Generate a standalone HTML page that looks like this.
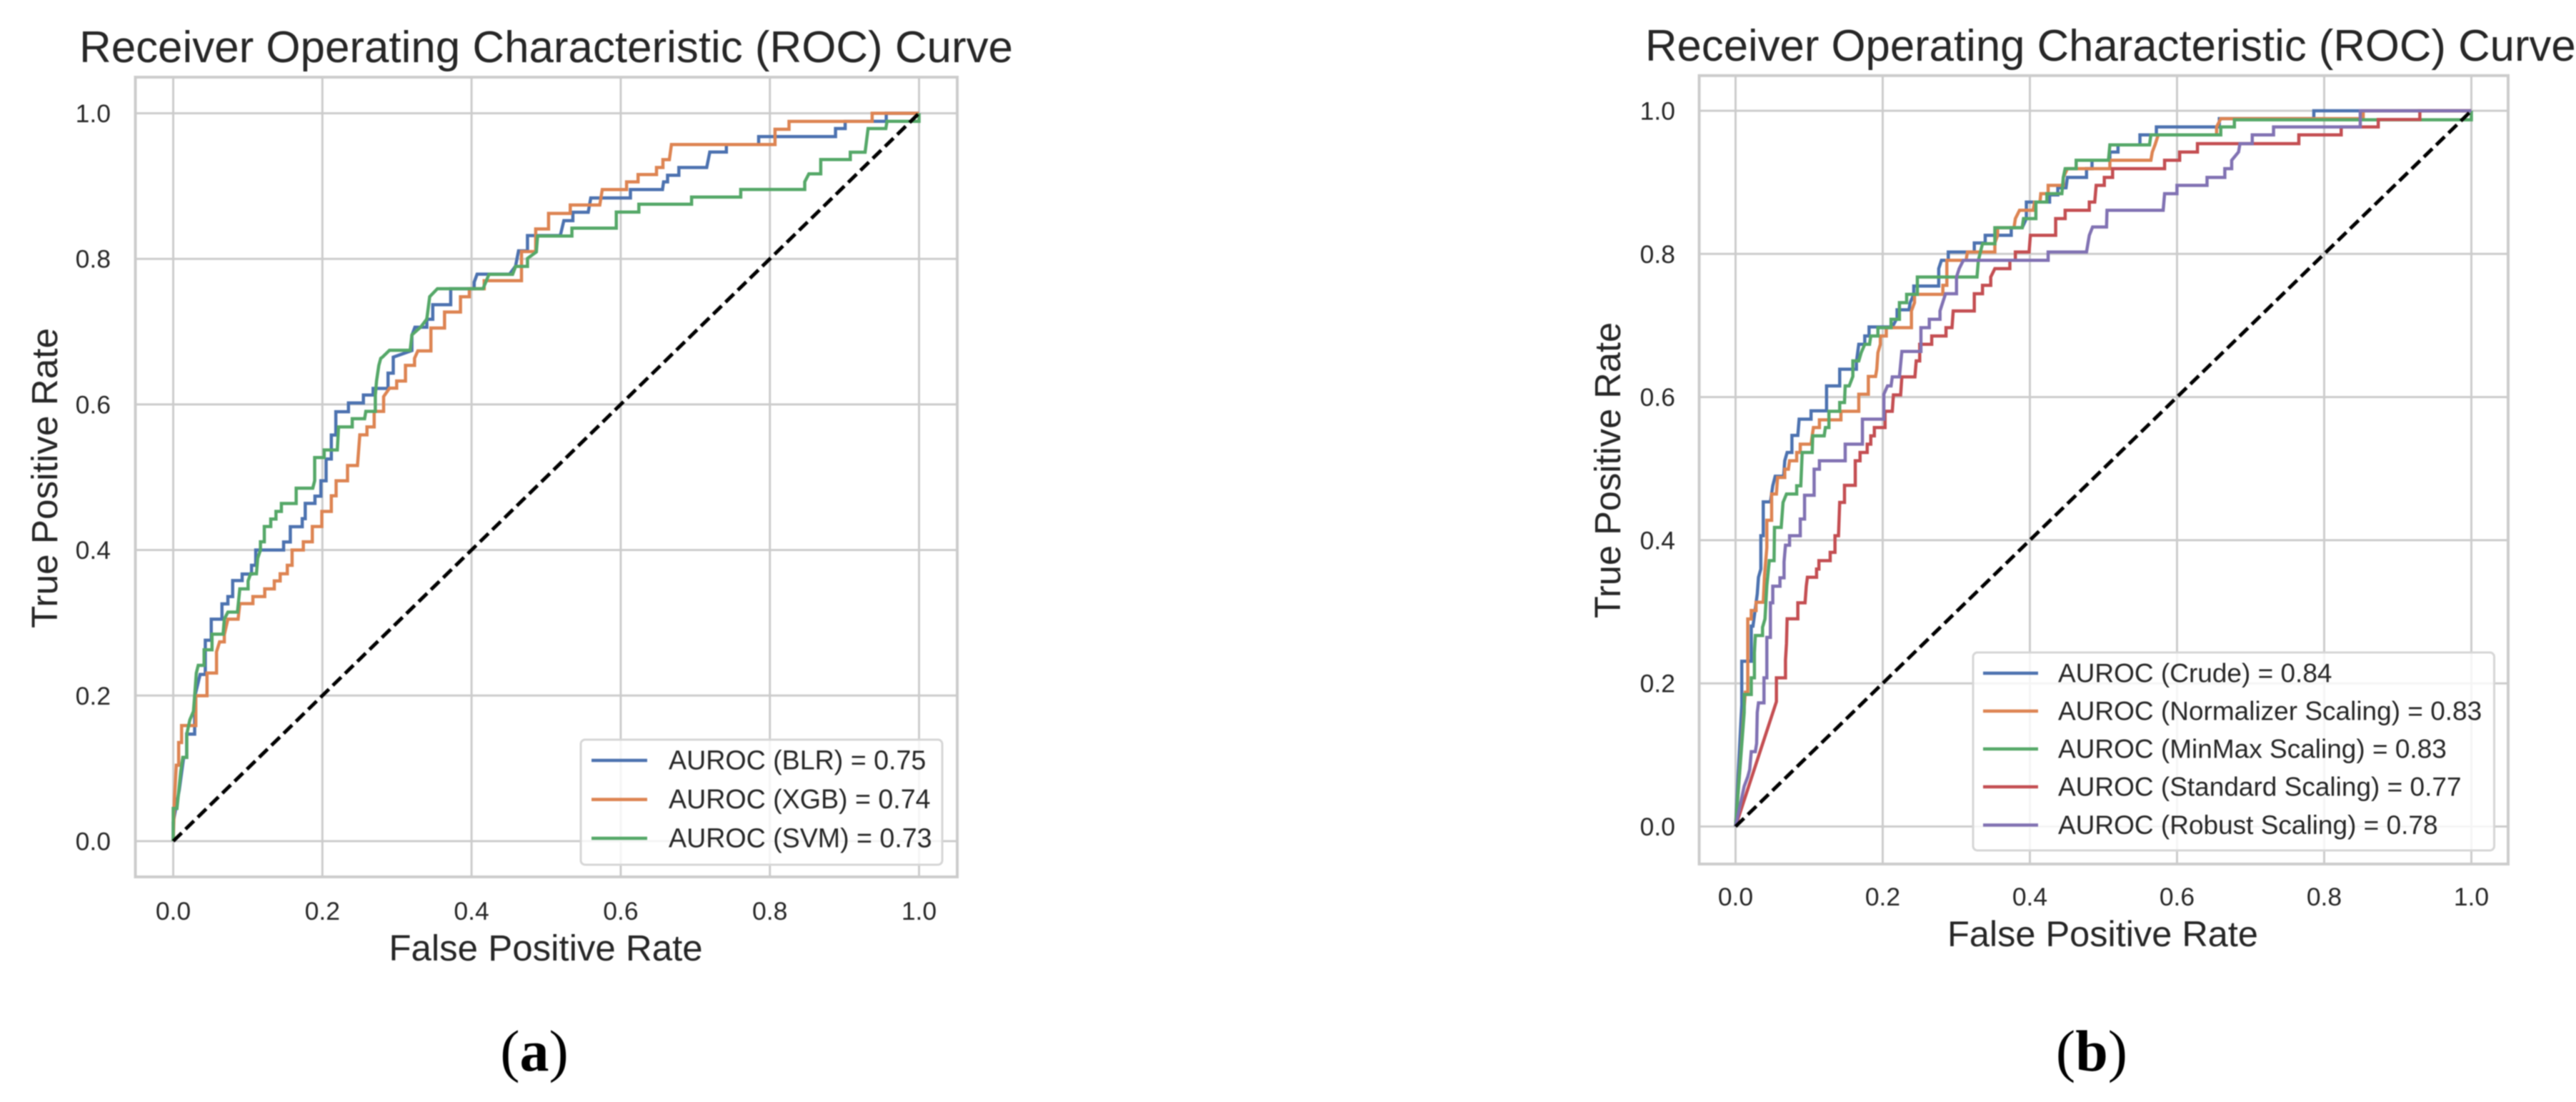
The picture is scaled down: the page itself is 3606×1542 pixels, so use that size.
<!DOCTYPE html>
<html lang="en">
<head>
<meta charset="utf-8">
<title>ROC Curves</title>
<style>
html,body{margin:0;padding:0;background:#fff;}
body{width:3606px;height:1542px;overflow:hidden;}
svg{display:block;filter:blur(0.8px);}
text{font-family:"Liberation Sans",Arial,sans-serif;fill:#262626;}
.cap{font-family:"Liberation Serif",serif;fill:#000;}
</style>
</head>
<body>
<svg id="figure" xmlns="http://www.w3.org/2000/svg" width="3606" height="1542" viewBox="0 0 3606 1542">
  <rect x="0" y="0" width="3606" height="1542" fill="#ffffff"/>
  <g id="panel-a"></g>
  <g id="panel-b"></g>
  <text x="111" y="87" font-size="61.9">Receiver Operating Characteristic (ROC) Curve</text>
  <text x="2303" y="85" font-size="61.7">Receiver Operating Characteristic (ROC) Curve</text>
  <text x="764" y="1344" font-size="51" text-anchor="middle">False Positive Rate</text>
  <text x="2943.5" y="1324" font-size="50.5" text-anchor="middle">False Positive Rate</text>
  <text transform="translate(80,669) rotate(-90)" font-size="51.3" text-anchor="middle">True Positive Rate</text>
  <text transform="translate(2268,658) rotate(-90)" font-size="50.6" text-anchor="middle">True Positive Rate</text>
  <text class="cap" x="748" y="1498" font-size="82" text-anchor="middle">(<tspan font-weight="bold">a</tspan>)</text>
  <text class="cap" x="2928" y="1498" font-size="82" text-anchor="middle">(<tspan font-weight="bold">b</tspan>)</text>
</svg>
<script>
var tickValues = [0.0, 0.2, 0.4, 0.6, 0.8, 1.0];
var tickLabels = ["0.0", "0.2", "0.4", "0.6", "0.8", "1.0"];
var chanceFpr = [0, 1];
var chanceTpr = [0, 1];

var labelsA = ["AUROC (BLR) = 0.75", "AUROC (XGB) = 0.74", "AUROC (SVM) = 0.73"];
var labelsB = ["AUROC (Crude) = 0.84", "AUROC (Normalizer Scaling) = 0.83", "AUROC (MinMax Scaling) = 0.83", "AUROC (Standard Scaling) = 0.77", "AUROC (Robust Scaling) = 0.78"];

var blrFpr = [0,0,.008,.014,.018,.018,.0287,.0287,.036,.043,.043,.051,.051,.0653,.0653,.0733,.0733,.0797,.0797,.0924,.0924,.105,.105,.1106,.1106,.148,.148,.157,.157,.173,.173,.177,.177,.19,.19,.198,.198,.205,.205,.212,.212,.218,.218,.235,.235,.255,.255,.268,.268,.288,.288,.295,.295,.32,.32,.324,.34,.34,.348,.348,.372,.372,.4035,.4035,.4075,.451,.459,.463,.475,.475,.519,.5238,.5358,.5358,.5564,.5599,.613,.613,.656,.6575,.6628,.6628,.678,.678,.7153,.7194,.7417,.7417,.785,.785,.888,.888,.901,.901,.956,.956,1];
var blrTpr = [0,.026,.07,.115,.115,.147,.147,.198,.229,.229,.276,.276,.305,.305,.326,.326,.336,.336,.358,.358,.367,.367,.379,.379,.4,.4,.411,.411,.432,.432,.443,.443,.464,.464,.474,.474,.495,.495,.525,.525,.558,.558,.59,.59,.602,.602,.613,.613,.622,.622,.643,.643,.665,.674,.695,.706,.706,.717,.717,.737,.737,.759,.759,.768,.779,.779,.79,.811,.811,.832,.832,.8525,.8525,.864,.864,.8837,.8837,.8952,.8952,.9057,.9057,.9149,.9149,.9255,.9255,.9468,.9468,.957,.957,.968,.968,.979,.979,.989,.989,1,1];

var xgbFpr = [0,.0016,.0041,.0073,.0073,.0112,.0112,.0303,.0303,.0453,.0453,.058,.058,.0622,.0685,.0685,.0733,.087,.0893,.1068,.1068,.1227,.1227,.1355,.1355,.1434,.1434,.153,.153,.1594,.1594,.1744,.1744,.1865,.1865,.1992,.1992,.212,.212,.2184,.2184,.2337,.2337,.247,.2502,.2598,.2598,.2694,.2694,.2821,.2821,.29,.2996,.2996,.3114,.3114,.3236,.3236,.328,.3455,.3455,.3638,.3638,.3852,.3852,.397,.397,.417,.417,.467,.467,.486,.486,.5033,.5033,.5324,.5324,.5719,.5753,.6079,.6079,.6233,.6233,.648,.648,.6566,.6566,.6652,.668,.8069,.8069,.8257,.8257,.9372,.9372,1];
var xgbTpr = [0,.0576,.1043,.1043,.1355,.1355,.1589,.1589,.1998,.1998,.2309,.2309,.2601,.2738,.2738,.2835,.305,.305,.3264,.3264,.3361,.3361,.3466,.3466,.3575,.3575,.3673,.3673,.379,.379,.4,.4,.4113,.4113,.4323,.4323,.453,.453,.4744,.4744,.4951,.4951,.5161,.5161,.5582,.5582,.5691,.5691,.5905,.5905,.6108,.6224,.6224,.6322,.6322,.6536,.6536,.6633,.6735,.6735,.705,.705,.727,.727,.748,.748,.759,.759,.77,.77,.81,.81,.841,.841,.8624,.8624,.8739,.8739,.8952,.8952,.9057,.9057,.9159,.9159,.9255,.9255,.9363,.9363,.957,.957,.978,.978,.9888,.9888,1,1];

var svmFpr = [0,0,.005,.0102,.0128,.0182,.0182,.0223,.0271,.0287,.0309,.0335,.0414,.0414,.052,.052,.0669,.0685,.0733,.0861,.0893,.1004,.1004,.1036,.1116,.1132,.117,.117,.1221,.1221,.1307,.1307,.1377,.1377,.145,.145,.1648,.1648,.1871,.1897,.1897,.2024,.2024,.22,.2216,.24,.24,.2566,.2582,.271,.271,.2726,.2757,.2783,.2804,.2899,.3177,.32,.332,.34,.3439,.3542,.4154,.4234,.4551,.4591,.475,.475,.4869,.4885,.5346,.5346,.5941,.5941,.6243,.6243,.695,.695,.7609,.7609,.8467,.8467,.8523,.8682,.8682,.9079,.9079,.9277,.9317,.9555,.9571,1,1];
var svmTpr = [0,.045,.045,.0965,.1152,.1152,.1472,.1667,.1783,.1998,.2309,.2415,.2415,.2629,.2629,.2843,.2843,.305,.3147,.3147,.3466,.3466,.3575,.3673,.3673,.3887,.4,.4113,.4113,.4323,.4323,.4425,.4425,.453,.453,.4639,.4639,.4849,.4849,.4951,.527,.527,.5375,.5375,.5691,.5691,.5804,.5804,.5905,.5905,.6127,.6322,.6536,.6633,.6648,.6744,.6744,.6955,.7064,.7174,.748,.759,.759,.7787,.7787,.7897,.7897,.8006,.8094,.8313,.8313,.8422,.8422,.8642,.8642,.8751,.8751,.8848,.8848,.8953,.8953,.9058,.9167,.9167,.9365,.9365,.9465,.9465,.979,.979,.989,.989,1];

var crudeFpr = [0,.0084,.0084,.0214,.0214,.0237,.0263,.0295,.0312,.0344,.0344,.0377,.0377,.0474,.0506,.0539,.0653,.0669,.0701,.0766,.0766,.0847,.0864,.1026,.1026,.1237,.1237,.1416,.1416,.1643,.1643,.1675,.1756,.1756,.1815,.1815,.213,.2195,.2195,.2357,.2373,.2422,.2422,.2761,.2761,.2798,.2891,.2891,.3245,.3245,.3393,.3393,.3747,.3747,.3896,.3952,.3952,.4268,.4268,.438,.438,.4491,.451,.477,.477,.4845,.4845,.5087,.5087,.5198,.5198,.5496,.5496,.5719,.5719,.6575,.6575,.7859,.7859,1];
var crudeTpr = [0,.17,.231,.231,.28,.28,.3,.3249,.3482,.3598,.4063,.4063,.4535,.4535,.4761,.4894,.4894,.511,.5226,.5226,.5465,.5465,.5691,.5691,.5807,.5807,.6156,.6156,.6389,.6389,.6488,.6738,.6738,.6854,.6854,.698,.698,.7103,.7219,.7219,.7319,.7435,.7552,.7552,.7794,.791,.791,.8027,.8027,.8153,.8153,.826,.826,.8366,.8366,.8493,.8725,.8725,.8825,.8825,.8925,.8925,.9068,.9068,.9191,.9191,.9308,.9308,.9424,.9424,.9524,.9524,.9664,.9664,.9774,.9774,.989,.989,1,1];

var normFpr = [0,.0133,.0166,.0166,.0214,.0214,.0279,.0279,.0377,.0393,.0425,.0425,.049,.049,.0555,.0571,.0669,.0669,.0718,.0734,.0831,.0831,.088,.088,.1026,.1042,.1058,.114,.114,.1432,.1432,.1675,.1675,.1805,.1805,.1903,.1919,.1935,.1968,.1968,.2049,.2049,.239,.239,.2432,.2432,.2817,.2817,.2872,.2872,.3133,.3151,.3524,.3524,.3561,.3561,.3784,.3803,.3859,.4045,.4063,.4138,.4149,.4249,.4249,.4454,.4454,.451,.5087,.5087,.5645,.5664,.5701,.5745,.6538,.6538,.6594,.853,.853,1];
var normTpr = [0,.1877,.1877,.29,.29,.3017,.3017,.3133,.3133,.3498,.3897,.4279,.4279,.4645,.4645,.4877,.4877,.4993,.4993,.511,.511,.5226,.5226,.5342,.5342,.5458,.5575,.5575,.5681,.5681,.5801,.5801,.604,.604,.6289,.6289,.6389,.6621,.6738,.6854,.6854,.697,.697,.7203,.7319,.7435,.7435,.7561,.7561,.791,.791,.8027,.8027,.8153,.826,.8366,.8366,.8493,.8609,.8609,.8725,.8725,.8842,.8842,.8958,.8958,.9068,.9191,.9191,.9308,.9308,.9424,.9524,.9664,.9664,.9774,.989,.989,1,1];

var minmaxFpr = [0,.0117,.0117,.0214,.0214,.0256,.0256,.0269,.0367,.0367,.04,.0425,.0458,.0523,.0529,.062,.0646,.0692,.0831,.0831,.0886,.0906,.1042,.1049,.1205,.1221,.1269,.1269,.1416,.1416,.1481,.149,.1545,.1594,.1594,.1675,.1708,.1756,.1821,.1838,.1935,.1935,.2114,.2114,.2227,.2227,.2325,.2325,.2471,.2471,.3282,.33,.3356,.3524,.3524,.3896,.3914,.4082,.4082,.4231,.4231,.4435,.4454,.448,.4629,.4629,.5068,.5087,.5626,.5645,.6594,.6594,.678,.678,1,1];
var minmaxTpr = [0,.1594,.1844,.1844,.2077,.2077,.2426,.2668,.2668,.2784,.29,.3365,.3714,.3714,.4179,.4179,.4528,.4645,.4645,.4761,.4761,.5226,.5226,.5458,.5458,.5575,.5575,.5801,.5801,.5924,.5924,.6156,.6156,.6289,.6505,.6505,.6621,.6738,.6738,.6854,.6854,.697,.697,.7086,.7086,.7319,.7319,.7435,.7435,.7677,.7677,.791,.8143,.8143,.8366,.8366,.8493,.8493,.8725,.8725,.8842,.8842,.9068,.9191,.9191,.9308,.9308,.9524,.9524,.9664,.9664,.9774,.9774,.9874,.9874,1];

var standardFpr = [0,.0555,.0555,.0679,.0679,.0692,.0701,.0847,.0847,.0945,.0961,.0977,.1101,.1101,.1133,.1133,.1286,.1286,.1351,.1351,.1399,.1416,.1481,.1481,.1627,.1627,.1692,.1692,.1789,.1789,.1838,.1838,.1886,.1886,.2032,.2032,.213,.2146,.2244,.226,.2438,.2455,.2503,.2503,.2666,.2666,.286,.286,.2942,.2958,.3245,.3245,.3356,.3356,.3468,.3468,.3524,.3728,.3728,.3803,.3803,.3989,.4007,.435,.435,.448,.448,.4808,.4808,.4882,.4901,.5012,.5012,.5124,.5124,.5831,.5831,.6036,.6036,.6278,.6278,.7655,.7655,.8231,.8231,.8735,.8735,.93,.93,1];
var standardTpr = [0,.1744,.2077,.2077,.2326,.2559,.2902,.2902,.3125,.3125,.3358,.3482,.3482,.3598,.3598,.3714,.3714,.383,.383,.4063,.4063,.4528,.4528,.4767,.4767,.511,.511,.5226,.5226,.5342,.5342,.5458,.5458,.5575,.5575,.5801,.5801,.603,.603,.6282,.6282,.6505,.6505,.6738,.6738,.6854,.6854,.697,.697,.7203,.7203,.7444,.7444,.7561,.7561,.7677,.7794,.7794,.791,.791,.8027,.8027,.826,.826,.8493,.8493,.8609,.8609,.8725,.8725,.8958,.8958,.9068,.9068,.9191,.9191,.9308,.9308,.9424,.9424,.9541,.9541,.9664,.9664,.9774,.9774,.9877,.9877,1,1];

var robustFpr = [0,.0117,.0166,.0192,.0214,.0269,.0286,.0295,.0312,.0386,.0386,.0425,.0425,.0474,.0474,.0506,.0506,.0604,.0604,.0659,.0659,.0679,.0734,.0734,.088,.088,.0938,.0938,.1068,.1068,.114,.114,.149,.149,.1724,.1724,.2016,.2016,.2065,.2114,.213,.2227,.226,.2519,.2519,.2633,.2633,.2779,.2779,.2817,.2854,.3003,.3003,.304,.3096,.4249,.4249,.477,.4808,.4852,.5042,.5049,.5812,.5831,.5999,.5999,.6408,.6408,.665,.665,.6743,.6743,.6836,.6855,.7022,.7022,.7312,.7312,.849,.849,1];
var robustTpr = [0,.0562,.0695,.0795,.1045,.1045,.1161,.1594,.1727,.1727,.2077,.2077,.2642,.2642,.3125,.3125,.3358,.3358,.3475,.3475,.3698,.393,.393,.4063,.4063,.4296,.4296,.4628,.4628,.4993,.4993,.511,.511,.5342,.5342,.5691,.5691,.604,.6156,.6156,.6282,.6282,.6638,.6638,.697,.697,.7086,.7086,.7203,.7328,.7444,.7444,.7677,.7794,.791,.791,.8027,.8027,.826,.8376,.8376,.8609,.8609,.8842,.8842,.8958,.8958,.9068,.9068,.9191,.9191,.9308,.9424,.9541,.9541,.9664,.9664,.9774,.9774,1,1];

var SVGNS = "http://www.w3.org/2000/svg";
var COLORS = ["#4c72b0", "#dd8452", "#55a868", "#c44e52", "#8172b3"];

function make(parent, tag, attrs, txt) {
  var el = document.createElementNS(SVGNS, tag);
  for (var k in attrs) { el.setAttribute(k, attrs[k]); }
  if (txt !== undefined) { el.textContent = txt; }
  parent.appendChild(el);
  return el;
}

function pointsFrom(xs, ys, xAxis, yAxis) {
  var out = [];
  for (var i = 0; i < xs.length; i++) {
    out.push(xAxis(xs[i]).toFixed(1) + "," + yAxis(ys[i]).toFixed(1));
  }
  return out.join(" ");
}

function drawPanel(p) {
  var root = document.getElementById(p.id);
  var xAxis = function (v) { return p.x0 + p.xs * v; };
  var yAxis = function (v) { return p.y0 - p.ys * v; };

  tickValues.forEach(function (v, i) {
    var gx = make(root, "line", {x1: xAxis(v), x2: xAxis(v), y1: p.top, y2: p.bottom, stroke: "#cccccc", "stroke-width": 3});
    
    
    var gy = make(root, "line", {x1: p.left, x2: p.right, y1: yAxis(v), y2: yAxis(v), stroke: "#cccccc", "stroke-width": 3});
    
    
    var tx = make(root, "text", {x: xAxis(v), y: p.xTickY, "font-size": 35.5, "text-anchor": "middle"}, tickLabels[i]);
    
    
    var ty = make(root, "text", {x: p.yTickX, y: yAxis(v) + 12.5, "font-size": 35.5, "text-anchor": "end"}, tickLabels[i]);
    
    
  });

  var frame = make(root, "rect", {x: p.left, y: p.top, width: p.right - p.left, height: p.bottom - p.top, fill: "none", stroke: "#cccccc", "stroke-width": 4});
  
  

  p.series.forEach(function (s, i) {
    var line = make(root, "polyline", {points: pointsFrom(s[0], s[1], xAxis, yAxis), fill: "none", stroke: COLORS[i], "stroke-width": 4.5, "stroke-linejoin": "miter"});
    
    
  });

  var chance = make(root, "polyline", {points: pointsFrom(chanceFpr, chanceTpr, xAxis, yAxis), fill: "none", stroke: "#000000", "stroke-width": 5, "stroke-dasharray": "16.5 7.5"});
  
  

  var box = make(root, "rect", {x: p.legend[0], y: p.legend[1], width: p.legend[2] - p.legend[0], height: p.legend[3] - p.legend[1], rx: 6, ry: 6, fill: "#ffffff", "fill-opacity": 0.8, stroke: "#d6d6d6", "stroke-width": 3});
  
  

  p.labels.forEach(function (t, i) {
    var y = p.legendY[i];
    var sw = make(root, "line", {x1: p.swatch[0], x2: p.swatch[1], y1: y, y2: y, stroke: COLORS[i], "stroke-width": 4.6});
    
    
    var lb = make(root, "text", {x: p.swatch[2], y: y + p.legendDrop, "font-size": p.legendFont}, t);
    
    
  });
}

drawPanel({
  id: "panel-a", x0: 242.5, xs: 1044, y0: 1177, ys: 1018.5,
  left: 189.5, right: 1340, top: 108, bottom: 1227,
  xTickY: 1287, yTickX: 155,
  series: [[blrFpr, blrTpr], [xgbFpr, xgbTpr], [svmFpr, svmTpr]],
  names: ["blr", "xgb", "svm"],
  labels: labelsA,
  legend: [813, 1035, 1319, 1210], legendY: [1064, 1118.7, 1173], swatch: [828, 906, 936],
  legendFont: 37.6, legendDrop: 12.5
});

drawPanel({
  id: "panel-b", x0: 2429.5, xs: 1030, y0: 1156.5, ys: 1001.5,
  left: 2378.6, right: 3511, top: 105.8, bottom: 1209,
  xTickY: 1267, yTickX: 2345,
  series: [[crudeFpr, crudeTpr], [normFpr, normTpr], [minmaxFpr, minmaxTpr], [standardFpr, standardTpr], [robustFpr, robustTpr]],
  names: ["crude", "normalizer", "minmax", "standard", "robust"],
  labels: labelsB,
  legend: [2762, 913, 3491.5, 1190], legendY: [942, 995, 1048, 1101, 1154.5], swatch: [2776, 2853, 2881],
  legendFont: 37, legendDrop: 12.5
});
</script>
</body>
</html>
